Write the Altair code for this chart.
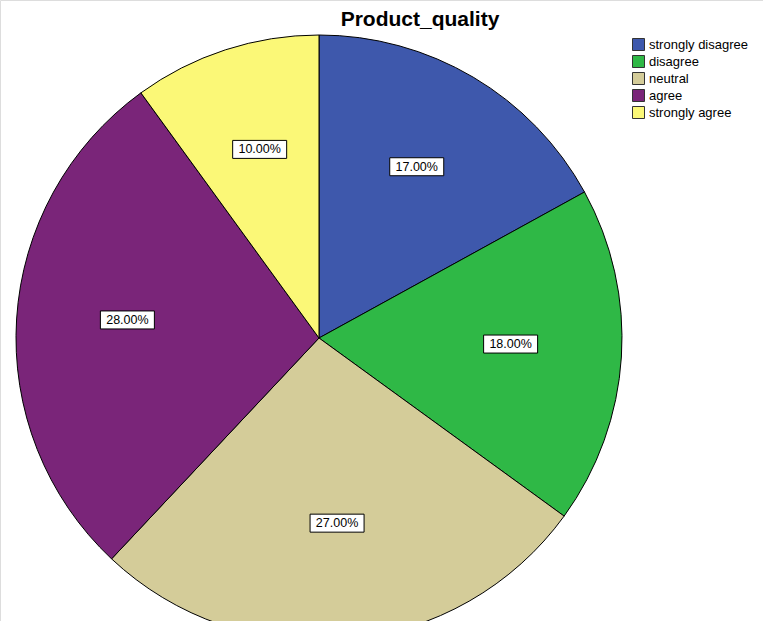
import altair as alt
import pandas as pd

categories = ["strongly disagree", "disagree", "neutral", "agree", "strongly agree"]
values = [17, 18, 27, 28, 10]
colors = ["#3E58AC", "#2FB846", "#D4CC99", "#7A2579", "#FBF877"]
title_text = ["Product_quality"]

df = pd.DataFrame({"category": categories, "value": values, "idx": list(range(len(categories)))})

CX, CY, R, LR = 319, 338, 303, 192

color_scale = alt.Scale(domain=categories, range=colors)

pie = alt.Chart(df).mark_arc(radius=R, stroke="black", strokeWidth=1).encode(
    theta=alt.Theta("value:Q", stack=True),
    order=alt.Order("idx:Q", sort="ascending"),
    color=alt.Color("category:N", scale=color_scale, sort=categories,
                    legend=alt.Legend(title=None, orient="none", legendX=632, legendY=38,
                                      symbolType="square", symbolSize=144,
                                      symbolStrokeColor="#333333", symbolStrokeWidth=1,
                                      symbolOpacity=1, labelFont="Liberation Sans",
                                      labelFontSize=13, labelColor="black",
                                      rowPadding=0, labelOffset=4, labelLimit=200)),
    x=alt.value(CX),
    y=alt.value(CY),
)

base = alt.Chart(df).transform_joinaggregate(
    total="sum(value)"
).transform_window(
    cum="sum(value)", sort=[alt.SortField("idx", order="ascending")], frame=[None, 0]
).transform_calculate(
    lx=f"{CX} + {LR} * sin((datum.cum - datum.value/2) / datum.total * 2 * PI)",
    ly=f"{CY - 6} - {LR} * cos((datum.cum - datum.value/2) / datum.total * 2 * PI)",
    label="format(datum.value / datum.total, '.2%')",
).transform_calculate(
    x1="datum.lx - 27", x2="datum.lx + 27", y1="datum.ly - 9", y2="datum.ly + 9"
)

boxes = base.mark_rect(fill="white", stroke="black", strokeWidth=1).encode(
    x=alt.X("x1:Q", scale=None, axis=None),
    x2="x2:Q",
    y=alt.Y("y1:Q", scale=None, axis=None),
    y2="y2:Q",
)

texts = base.mark_text(font="Liberation Sans", fontSize=12.5, color="black",
                       align="center", baseline="middle").encode(
    x=alt.X("lx:Q", scale=None, axis=None),
    y=alt.Y("ly:Q", scale=None, axis=None),
    text="label:N",
)

title = alt.Chart(pd.DataFrame({"t": title_text})).mark_text(
    font="Liberation Sans", fontSize=21, fontWeight="bold", color="black",
    align="center", baseline="middle"
).encode(x=alt.value(420), y=alt.value(20), text="t:N")

chart = alt.layer(pie, boxes, texts, title).properties(
    width=763, height=621, padding=0, autosize=alt.AutoSizeParams(type="none")
).configure_view(stroke=None).configure(background="white")

chart.save("out.html", embed_options={"renderer": "svg", "actions": False})
